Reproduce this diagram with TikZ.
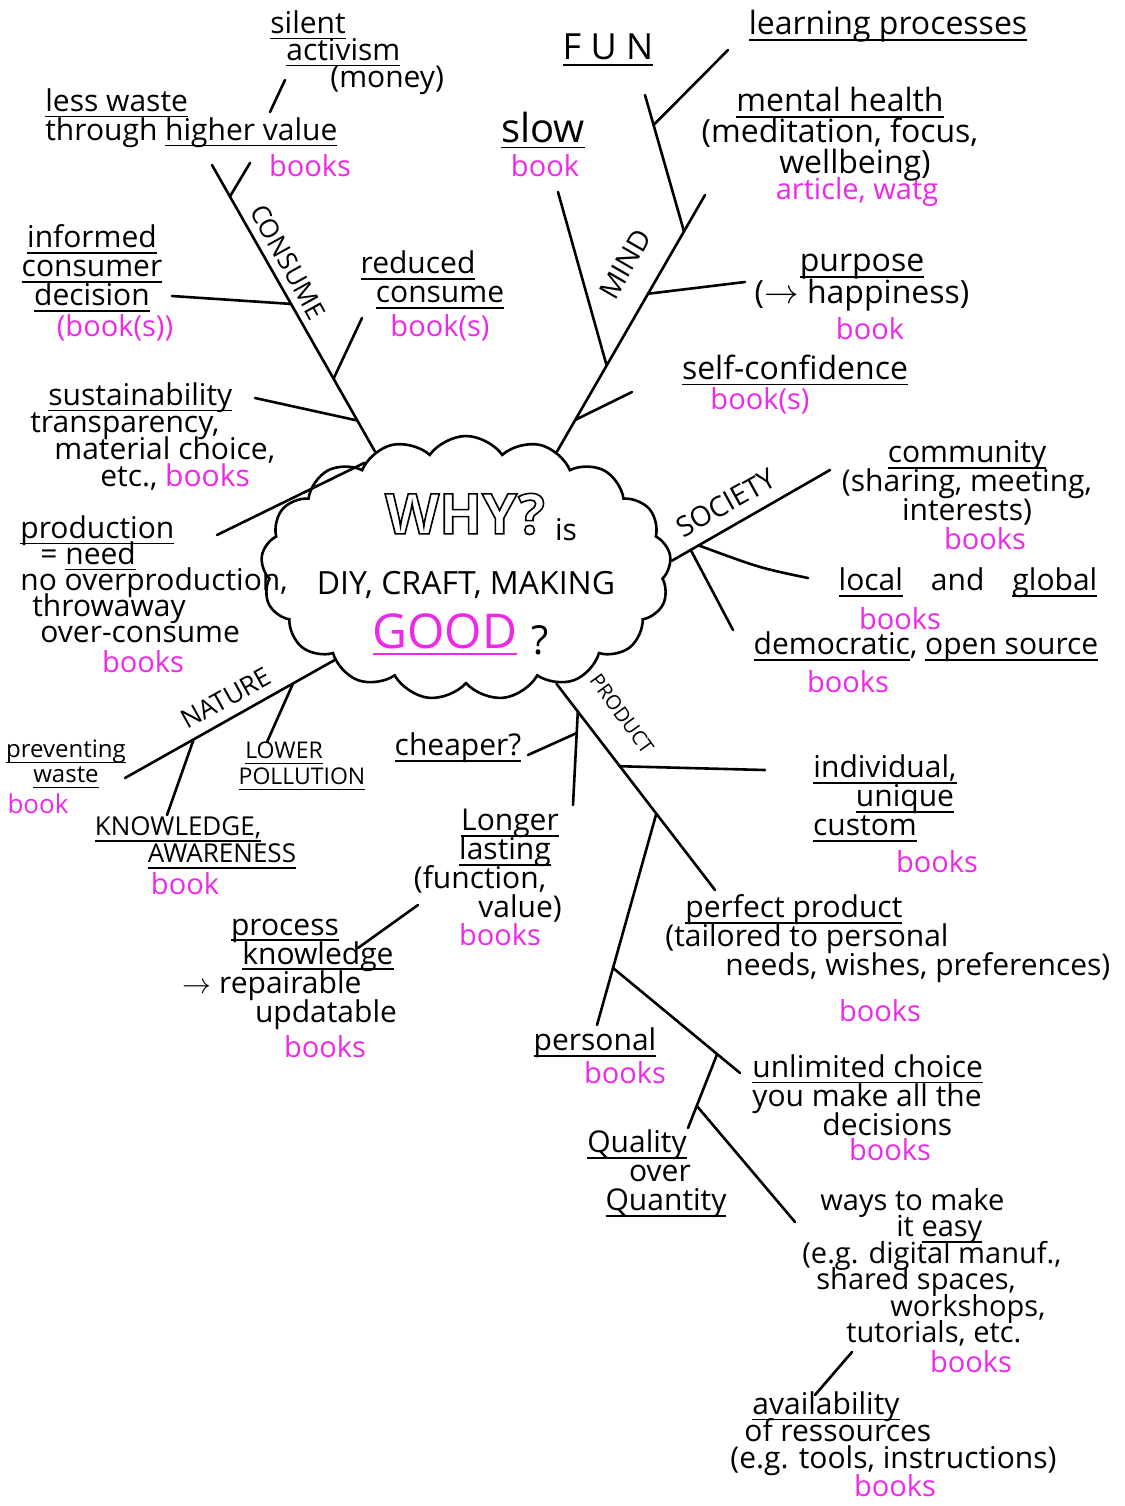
\documentclass[tikz,border=0pt]{standalone}
\usepackage{fontspec}
\setmainfont{Open Sans}
\usepackage{tikz}
\usetikzlibrary{shapes.symbols, calc}
\definecolor{bookpink}{RGB}{238,40,232}
\setlength{\lineskiplimit}{-50pt}
\newcommand{\outlined}[1]{\special{pdf:literal direct 1 Tr 0.8 w}#1\special{pdf:literal direct 0 Tr}}
\newcommand{\undl}[1]{\setbox0\hbox{#1}\leavevmode\rlap{\vrule height -2.2pt depth 3.1pt width \wd0}\box0}

\tikzset{
  idea/.style={align=left, anchor=north west, inner sep=0pt, font=\fontsize{15}{14.5}\selectfont},
  ideac/.style={align=center, inner sep=0pt, font=\fontsize{15}{14.5}\selectfont},
  bk/.style={text=bookpink, inner sep=0pt, font=\fontsize{14.5}{14.5}\selectfont},
  theme/.style={inner sep=0pt, font=\fontsize{13}{13}\selectfont},
  stroke/.style={line width=1.3pt, line cap=round}
}

\begin{document}
\begin{tikzpicture}[x=0.5pt, y=-0.5pt]
\useasboundingbox (0,0) rectangle (1125,1506);

\node[cloud, draw, stroke, cloud puffs=17, cloud puff arc=110, aspect=1.6,
      minimum width=205pt, minimum height=132pt] (why) at (466,568) {};
\node[inner sep=0pt, font=\fontsize{28}{28}\selectfont\bfseries] (whyq) at (465,514) {\outlined{WHY?}};
\node[ideac] (is) at (566,530) {is};
\node[ideac, font=\fontsize{16}{16}\selectfont] (diy) at (466,585) {DIY, CRAFT, MAKING};
\node[inner sep=0pt, text=bookpink, font=\fontsize{24}{24}\selectfont] (good) at (445,634) {\undl{GOOD}};
\node[inner sep=0pt, font=\fontsize{20}{20}\selectfont] (qmark) at (540,640) {?};

% main branches
\coordinate (cA) at (212,165);
\coordinate (pA) at (217,535);
\coordinate (mA) at (705,195);
\coordinate (sA) at (830,470);
\coordinate (nA) at (125,778);
\coordinate (dA) at (715,890);

\draw[stroke] (why.128) -- (cA);
\draw[stroke] (why.134) -- (pA);
\draw[stroke] (why.52) -- (mA);
\draw[stroke] (why.2) -- (sA);
\draw[stroke] (why.215) -- (nA);
\draw[stroke] (why.308) -- (dA);

\node[theme, rotate=-61] (consume) at (288,262) {CONSUME};
\node[theme, font=\fontsize{14}{14}\selectfont, rotate=60] (mind) at (625,264) {MIND};
\node[theme, font=\fontsize{14}{14}\selectfont, rotate=29] (society) at (726,503) {SOCIETY};
\node[theme, rotate=29] (nature) at (226,698) {NATURE};
\node[theme, font=\fontsize{10}{10}\selectfont, rotate=-54] (product) at (622,714) {PRODUCT};

% consume
\coordinate (c1) at ($(why.128)!0.89!(cA)$);
\coordinate (c2) at ($(why.128)!0.515!(cA)$);
\coordinate (c3) at ($(why.128)!0.254!(cA)$);
\coordinate (c4) at ($(why.128)!0.108!(cA)$);
\coordinate (hv) at (250,163);
\coordinate (sa) at (285,80);
\coordinate (sb) at (270,112);
\coordinate (inf) at (172,296);
\coordinate (red) at (362,318);
\coordinate (sus) at (255,398);
\draw[stroke] (c1) -- (hv);
\draw[stroke] (sb) -- (sa);
\draw[stroke] (c2) -- (inf);
\draw[stroke] (c3) -- (red);
\draw[stroke] (c4) -- (sus);

\node[idea, font=\fontsize{15}{13.5}\selectfont] (silent) at (270,10) {\undl{silent}\\\hspace*{8pt}\undl{activism}\\\hspace*{30pt}(money)};
\node[idea] (waste) at (45,88) {\undl{less waste}\\through \undl{higher value}};
\node[bk] (bkwaste) at (310,166) {books};
\node[ideac] (informed) at (92,268) {\undl{informed}\\\undl{consumer}\\\undl{decision}};
\node[bk] (bkinformed) at (115,328) {(book(s))};
\node[ideac] (reduced) at (418,280) {\undl{reduced}\\\hspace*{22pt}\undl{consume}};
\node[bk] (bkreduced) at (440,328) {book(s)};
\node[idea, font=\fontsize{15}{13.5}\selectfont] (sustain) at (30,382) {\hspace*{9pt}\undl{sustainability}\\transparency,\\\hspace*{12pt}material choice,\\\hspace*{35pt}etc., \textcolor{bookpink}{books}};
\node[idea, font=\fontsize{15}{13}\selectfont] (production) at (20,515) {\undl{production}\\\hspace*{10pt}= \undl{need}\\no overproduction,\\\hspace*{6pt}throwaway\\\hspace*{10pt}over-consume};
\node[bk] (bkproduction) at (143,662) {books};

% mind
\coordinate (m1) at ($(why.52)!0.123!(mA)$);
\coordinate (m2) at ($(why.52)!0.335!(mA)$);
\coordinate (m3) at ($(why.52)!0.615!(mA)$);
\coordinate (m4) at ($(why.52)!0.858!(mA)$);
\coordinate (slw) at (558,192);
\coordinate (fun) at (645,95);
\coordinate (lrn) at (728,50);
\coordinate (pur) at (745,282);
\coordinate (scf) at (632,392);
\coordinate (m5) at ($(m4)!0.78!(fun)$);
\draw[stroke] (m1) -- (scf);
\draw[stroke] (m2) -- (slw);
\draw[stroke] (m3) -- (pur);
\draw[stroke] (m4) -- (fun);
\draw[stroke] (m5) -- (lrn);

\node[ideac, font=\fontsize{20}{20}\selectfont] (slow) at (543,130) {\undl{slow}};
\node[bk] (bkslow) at (545,166) {book};
\node[ideac, font=\fontsize{18}{18}\selectfont] (funtxt) at (608,50) {\undl{F U N}};
\node[ideac, font=\fontsize{16}{16}\selectfont] (learning) at (888,26) {\undl{learning processes}};
\node[ideac, font=\fontsize{16}{15.5}\selectfont] (mental) at (840,134) {\undl{mental health}\\(meditation, focus,\\\hspace*{15pt}wellbeing)};
\node[bk] (bkmental) at (857,192) {article, watg};
\node[ideac, font=\fontsize{16}{16}\selectfont] (purpose) at (862,283) {\undl{purpose}\\($\rightarrow$ happiness)};
\node[bk] (bkpurpose) at (870,329) {book};
\node[ideac, font=\fontsize{16}{16}\selectfont] (selfconf) at (795,370) {\undl{self-confidence}};
\node[bk] (bkselfconf) at (760,401) {book(s)};

% society
\coordinate (s1) at ($(why.2)!0.17!(sA)$);
\coordinate (s2) at ($(why.2)!0.12!(sA)$);
\coordinate (loc) at (808,578);
\coordinate (dem) at (733,630);
\draw[stroke] (s1) .. controls (760,568) .. (loc);
\draw[stroke] (s2) -- (dem);

\node[ideac] (community) at (967,483) {\undl{community}\\(sharing, meeting,\\interests)};
\node[bk] (bkcommunity) at (985,539) {books};
\node[ideac] (local) at (968,583) {\undl{local}\hspace{14pt}and\hspace{14pt}\undl{global}};
\node[bk] (bklocal) at (900,619) {books};
\node[ideac] (democ) at (926,647) {\undl{democratic}, \undl{open source}};
\node[bk] (bkdemoc) at (848,682) {books};

% nature
\coordinate (n1) at ($(why.215)!0.197!(nA)$);
\coordinate (n2) at ($(why.215)!0.672!(nA)$);
\coordinate (low) at (267,742);
\coordinate (knw) at (167,815);
\draw[stroke] (n1) -- (low);
\draw[stroke] (n2) -- (knw);

\node[ideac, font=\fontsize{12}{12.5}\selectfont] (prevent) at (66,764) {\undl{preventing}\\\undl{waste}};
\node[bk, font=\fontsize{13}{13}\selectfont] (bkprevent) at (38,804) {book};
\node[ideac, font=\fontsize{11.5}{13}\selectfont] (lower) at (302,766) {\undl{LOWER}\hspace*{18pt}\mbox{}\\\undl{POLLUTION}};
\node[ideac, font=\fontsize{13}{13.5}\selectfont] (knowledge) at (200,843) {\undl{KNOWLEDGE,}\hspace*{22pt}\mbox{}\\\hspace*{22pt}\undl{AWARENESS}};
\node[bk] (bkknowledge) at (185,884) {book};

% product
\coordinate (d1) at ($(why.308)!0.135!(dA)$);
\coordinate (d2) at ($(why.308)!0.4!(dA)$);
\coordinate (d3) at ($(why.308)!0.63!(dA)$);
\coordinate (lng) at (573,805);
\coordinate (chp) at (528,755);
\coordinate (ind) at (765,770);
\coordinate (prs) at (597,1025);
\coordinate (unl) at (740,1073);
\coordinate (qua) at (688,1128);
\coordinate (way) at (795,1222);
\coordinate (d4) at ($(d1)!0.23!(lng)$);
\coordinate (d5) at ($(d3)!0.73!(prs)$);
\coordinate (d6) at ($(d5)!0.82!(unl)$);
\coordinate (d7) at ($(d6)!0.7!(qua)$);
\coordinate (pk1) at (418,905);
\coordinate (pk2) at (358,948);
\coordinate (av1) at (852,1352);
\coordinate (av2) at (815,1395);
\draw[stroke] (d1) -- (lng);
\draw[stroke] (d4) -- (chp);
\draw[stroke] (d2) -- (ind);
\draw[stroke] (d3) -- (prs);
\draw[stroke] (d5) -- (unl);
\draw[stroke] (d6) -- (qua);
\draw[stroke] (d7) -- (way);
\draw[stroke] (pk1) -- (pk2);
\draw[stroke] (av1) -- (av2);

\node[ideac] (cheaper) at (458,748) {\undl{cheaper?}};
\node[ideac] (longer) at (500,866) {\hspace*{10pt}\undl{Longer}\\\hspace*{5pt}\undl{lasting}\\(function,\hspace*{20pt}\mbox{}\\\hspace*{20pt}value)};
\node[bk] (bklonger) at (500,935) {books};
\node[ideac] (process) at (300,974) {\undl{process}\hspace*{15pt}\mbox{}\\\hspace*{18pt}\undl{knowledge}\\$\rightarrow$ repairable\hspace*{28pt}\mbox{}\\\hspace*{26pt}updatable};
\node[bk] (bkprocess) at (325,1047) {books};
\node[ideac] (individual) at (885,798) {\undl{individual,}\\\hspace*{20pt}\undl{unique}\\\undl{custom}\hspace*{20pt}\mbox{}};
\node[bk] (bkindividual) at (937,862) {books};
\node[idea] (perfect) at (665,894) {\hspace*{10pt}\undl{perfect product}\\(tailored to personal\\\hspace*{30pt}needs, wishes, preferences)};
\node[bk] (bkperfect) at (880,1011) {books};
\node[ideac] (personal) at (595,1043) {\undl{personal}};
\node[bk] (bkpersonal) at (625,1073) {books};
\node[idea] (unlimited) at (752,1054) {\undl{unlimited choice}\\you make all the\\\hspace*{35pt}decisions};
\node[bk] (bkunlimited) at (890,1150) {books};
\node[ideac] (quality) at (660,1174) {\undl{Quality}\hspace*{23pt}\mbox{}\\over\\\hspace*{6pt}\undl{Quantity}};
\node[idea, font=\fontsize{14.5}{13.2}\selectfont] (ways) at (802,1188) {\hspace*{9pt}ways to make\\\hspace*{47pt}it \undl{easy}\\(e.g. digital manuf.,\\\hspace*{7pt}shared spaces,\\\hspace*{44pt}workshops,\\\hspace*{22pt}tutorials, etc.};
\node[bk] (bkways) at (971,1362) {books};
\node[idea, font=\fontsize{15}{13.5}\selectfont] (avail) at (730,1391) {\hspace*{11pt}\undl{availability}\\\hspace*{7pt}of ressources\\(e.g. tools, instructions)};
\node[bk] (bkavail) at (895,1486) {books};
\end{tikzpicture}
\end{document}
